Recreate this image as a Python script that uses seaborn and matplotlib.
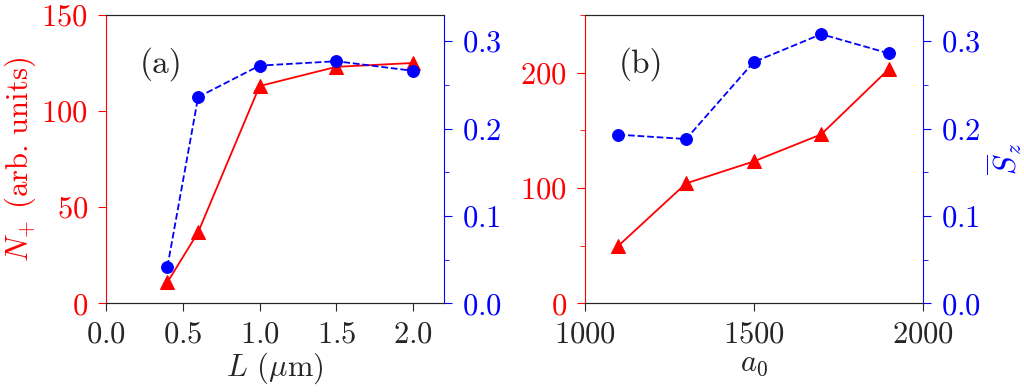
import matplotlib
matplotlib.use("Agg")
import matplotlib.pyplot as plt
import seaborn as sns
from matplotlib.ticker import MultipleLocator

# Panel (a): thickness scan
L_um = [0.4, 0.6, 1.0, 1.5, 2.0]
npos_a = [11, 37, 113, 123, 125]
sz_a = [0.042, 0.236, 0.272, 0.277, 0.266]

# Panel (b): a0 scan
a0 = [1100, 1300, 1500, 1700, 1900]
npos_b = [50, 104, 123, 146.5, 203]
sz_b = [0.193, 0.188, 0.276, 0.308, 0.286]

sns.set_style("ticks")
plt.rcParams["font.family"] = ["cmr10"]
plt.rcParams["mathtext.fontset"] = "cm"
plt.rcParams["axes.formatter.use_mathtext"] = True
plt.rcParams["font.size"] = 22

RED = "#ff0000"
BLUE = "#0000ff"
FS = 22

fig = plt.figure(figsize=(10.24, 3.92), dpi=100)
ax_a = fig.add_axes([0.1035, 0.226, 0.330, 0.736])
ax_b = fig.add_axes([0.571, 0.226, 0.330, 0.736])


def panel(ax, x, npos, sz, label):
    tw = ax.twinx()
    sns.lineplot(x=x, y=npos, ax=ax, color=RED, marker="^", markersize=9.5,
                 markeredgecolor=RED, linewidth=1.3)
    sns.lineplot(x=x, y=sz, ax=tw, color=BLUE, marker="o", markersize=8.5,
                 markeredgecolor=BLUE, linewidth=1.3, linestyle="--")
    tw.set_ylim(0, 0.33)
    tw.yaxis.set_major_locator(MultipleLocator(0.1))
    tw.yaxis.set_minor_locator(MultipleLocator(0.05))
    ax.spines["left"].set_color(RED)
    ax.spines["right"].set_visible(False)
    tw.spines["left"].set_visible(False)
    tw.spines["right"].set_color(BLUE)
    ax.tick_params(axis="y", colors=RED, which="both", labelsize=FS,
                   length=6, pad=7)
    tw.tick_params(axis="y", colors=BLUE, which="both", labelsize=FS,
                   length=6, pad=7)
    tw.tick_params(axis="y", which="minor", length=3.5)
    ax.tick_params(axis="y", which="minor", length=3.5)
    ax.tick_params(axis="x", labelsize=FS, length=6, pad=7)
    ax.text(0.1, 0.83, label, transform=ax.transAxes, fontsize=24,
            va="center", ha="left")
    return tw


tw_a = panel(ax_a, L_um, npos_a, sz_a, "(a)")
ax_a.set_xlim(0, 2.2)
ax_a.set_ylim(0, 150)
ax_a.xaxis.set_major_locator(MultipleLocator(0.5))
ax_a.yaxis.set_major_locator(MultipleLocator(50))
ax_a.set_xlabel(r"$L$ ($\mu$m)", fontsize=FS, labelpad=1)
ax_a.set_ylabel(r"$N_{+}$ (arb. units)", color=RED, fontsize=FS, labelpad=2)

tw_b = panel(ax_b, a0, npos_b, sz_b, "(b)")
ax_b.set_xlim(1000, 2000)
ax_b.set_ylim(0, 250)
ax_b.xaxis.set_major_locator(MultipleLocator(500))
ax_b.yaxis.set_major_locator(MultipleLocator(100))
ax_b.yaxis.set_minor_locator(MultipleLocator(50))
ax_b.set_xlabel(r"$a_0$", fontsize=FS, labelpad=1)
tw_b.set_ylabel(r"$\overline{S}_z$", color=BLUE, fontsize=FS, labelpad=3)

fig.savefig("out.png", dpi=100)
